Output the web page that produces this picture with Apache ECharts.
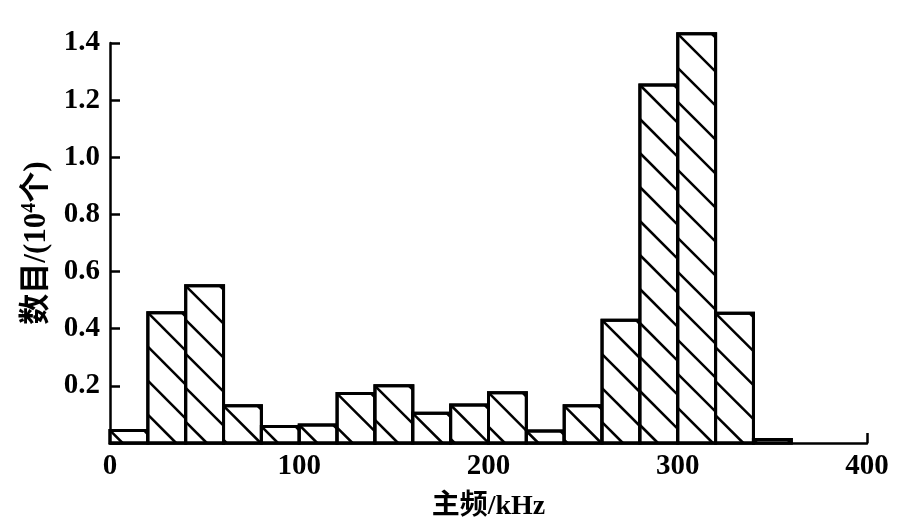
<!DOCTYPE html>
<html>
<head>
<meta charset="utf-8">
<script src="https://cdn.jsdelivr.net/npm/echarts@6/dist/echarts.min.js"></script>
<style>html,body{margin:0;padding:0;background:#fff}#c{width:907px;height:528px}</style>
</head>
<body>
<div id="c"></div>
<script>
const binStarts = [0,20,40,60,80,100,120,140,160,180,200,220,240,260,280,300,320,340];
const binWidth = 20;
const counts = [0.044,0.456,0.55,0.13,0.058,0.063,0.173,0.2,0.104,0.133,0.176,0.042,0.13,0.43,1.253,1.432,0.454,0.012];
const xTicks = [0,100,200,300,400];
const yTicks = [0.2,0.4,0.6,0.8,1.0,1.2,1.4];

const data = binStarts.map((s,i)=>[s, s+binWidth, counts[i]]);
const FONT = "'Liberation Serif','Noto Sans CJK SC',serif";

function renderItem(params, api){
  const tl = api.coord([api.value(0), api.value(2)]);
  const br = api.coord([api.value(1), 0]);
  const L = tl[0], T = tl[1], R = br[0], B = br[1];
  const children = [{
    type:'rect', shape:{x:L,y:T,width:R-L,height:B-T},
    style:{fill:'#fff', stroke:'#000', lineWidth:3}
  }];
  const s = 34;
  for(let k=-3;k<40;k++){
    const yL = T + k*s;
    const xs = Math.max(L, L + (T - yL));
    const xe = Math.min(R, L + (B - yL));
    if (xe - xs > 1){
      children.push({type:'line', shape:{x1:xs,y1:yL+(xs-L),x2:xe,y2:yL+(xe-L)},
        style:{stroke:'#000', lineWidth:2.5}});
    }
  }
  children.push({type:'rect', shape:{x:L,y:T,width:R-L,height:B-T},
    style:{fill:null, stroke:'#000', lineWidth:3}});
  return {type:'group', children};
}

const chart = echarts.init(document.getElementById('c'));
chart.setOption({
  animation:false,
  backgroundColor:'#fff',
  grid:{left:110, right:40, top:43, bottom:85},
  xAxis:{
    type:'value', min:0, max:400, interval:100,
    name:'主频/kHz', nameLocation:'middle', nameGap:50,
    nameTextStyle:{fontFamily:FONT, fontSize:28, fontWeight:'bold', color:'#000'},
    axisLine:{show:true, onZero:false, lineStyle:{color:'#000', width:2.5}},
    axisTick:{show:true, inside:true, length:10, lineStyle:{color:'#000', width:2.5}},
    axisLabel:{fontFamily:FONT, fontSize:29, fontWeight:'bold', color:'#000', margin:9,
      formatter:v=> xTicks.includes(v) ? String(v) : ''},
    splitLine:{show:false}
  },
  yAxis:{
    type:'value', min:0, max:1.4, interval:0.2,
    name:'数目/(10{sup|4}个)', nameLocation:'middle', nameGap:57,
    nameTextStyle:{fontFamily:FONT, fontSize:31, fontWeight:'bold', color:'#000',
      rich:{sup:{fontFamily:FONT, fontSize:20, fontWeight:'bold', color:'#000', verticalAlign:'top', padding:[0,0,13,0]}}},
    axisLine:{show:true, lineStyle:{color:'#000', width:2.5}},
    axisTick:{show:true, inside:true, length:10, lineStyle:{color:'#000', width:2.5}},
    axisLabel:{fontFamily:FONT, fontSize:29, fontWeight:'bold', color:'#000', margin:10,
      formatter:v=>{ const f = yTicks.find(t=>Math.abs(t-v)<1e-6); return f===undefined ? '' : f.toFixed(1); }},
    splitLine:{show:false}
  },
  series:[{
    type:'custom', renderItem, data, encode:{x:[0,1], y:2}, clip:false
  }]
});
</script>
</body>
</html>
